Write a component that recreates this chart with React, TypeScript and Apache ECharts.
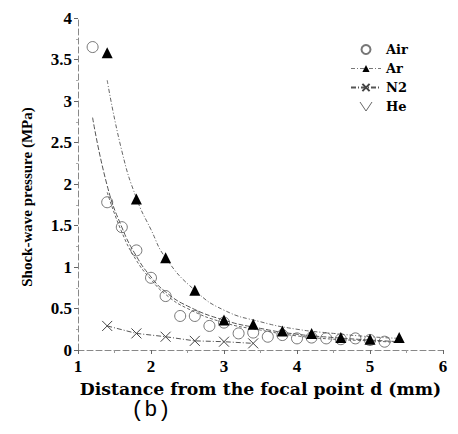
import React, { useEffect, useRef } from "react";
import * as echarts from "echarts";

const xTicks = [1, 2, 3, 4, 5, 6];
const airX = [1.2, 1.4, 1.6, 1.8, 2.0, 2.2, 2.4, 2.6, 2.8, 3.0, 3.2, 3.4, 3.6, 3.8, 4.0, 4.2, 4.4, 4.6, 4.8, 5.0, 5.2];
const airY = [3.65, 1.78, 1.48, 1.2, 0.87, 0.65, 0.41, 0.41, 0.29, 0.33, 0.2, 0.21, 0.16, 0.18, 0.14, 0.15, 0.14, 0.13, 0.14, 0.12, 0.1];
const arX = [1.4, 1.8, 2.2, 2.6, 3.0, 3.4, 3.8, 4.2, 4.6, 5.0, 5.4];
const arY = [3.58, 1.82, 1.11, 0.72, 0.36, 0.31, 0.23, 0.2, 0.15, 0.13, 0.15];
const n2X = [1.4, 1.8, 2.2, 2.6, 3.0, 3.4];
const n2Y = [0.29, 0.2, 0.16, 0.11, 0.1, 0.08];
const airFitX = [1.2, 1.4, 1.6, 1.8, 2.0, 2.2, 2.5, 3.0, 3.5, 4.0, 4.5, 5.0, 5.4];
const airFitY = [2.8, 1.98, 1.48, 1.13, 0.88, 0.7, 0.53, 0.36, 0.26, 0.19, 0.15, 0.12, 0.1];
const heFitX = [1.4, 1.6, 1.8, 2.0, 2.2, 2.5, 3.0, 3.5, 4.0, 4.5, 5.0, 5.4];
const heFitY = [1.9, 1.42, 1.08, 0.85, 0.67, 0.5, 0.33, 0.24, 0.17, 0.13, 0.11, 0.09];
const arFitX = [1.4, 1.6, 1.8, 2.0, 2.2, 2.6, 3.0, 3.5, 4.0, 4.5, 5.0, 5.4];
const arFitY = [3.25, 2.4, 1.83, 1.45, 1.11, 0.72, 0.48, 0.34, 0.25, 0.2, 0.16, 0.14];

const pairs = (xs: number[], ys: number[]) => xs.map((x, i) => [x, ys[i]]);

const serif = "'Liberation Serif', 'Times New Roman', serif";
const wideSerif = "'DejaVu Serif', serif";

export default function App() {
  const ref = useRef<HTMLDivElement>(null);
  useEffect(() => {
    if (!ref.current) return;
    const chart = echarts.init(ref.current, null, { renderer: "svg" });
    chart.setOption({
      animation: false,
      backgroundColor: "#fff",
      grid: { left: 78, right: 15, top: 18, bottom: 84 },
      legend: {
        orient: "vertical",
        left: 345,
        top: 35,
        itemWidth: 30,
        itemHeight: 9,
        itemGap: 0,
        textStyle: { fontFamily: wideSerif, fontWeight: "bold", fontSize: 13, color: "#000", lineHeight: 19 },
        data: [
          { name: "Air" },
          { name: "Ar", lineStyle: { opacity: 1, width: 1, color: "#777", type: [4, 2, 1, 2] } },
          { name: "N2" },
          {
            name: "He",
            icon: "path://M0,0L4,6L8,0",
            itemStyle: { color: "none", borderColor: "#666", borderWidth: 1 },
            lineStyle: { opacity: 0 },
          },
        ],
      },
      xAxis: {
        type: "value",
        min: xTicks[0],
        max: xTicks[xTicks.length - 1],
        interval: 1,
        name: "Distance from the focal point d (mm)",
        nameLocation: "middle",
        nameGap: 25,
        nameTextStyle: { fontFamily: wideSerif, fontWeight: "bold", fontSize: 17.3, color: "#000", lineHeight: 18 },
        axisLine: { lineStyle: { color: "#888", type: [6, 3], width: 1 } },
        axisTick: { length: 4, lineStyle: { color: "#666" } },
        minorTick: { show: true, splitNumber: 2, length: 3, lineStyle: { color: "#999" } },
        splitLine: { show: false },
        axisLabel: { fontFamily: serif, fontWeight: "bold", fontSize: 17, color: "#000", margin: 8 },
      },
      yAxis: {
        type: "value",
        min: 0,
        max: 4,
        interval: 0.5,
        axisLine: { show: true, lineStyle: { color: "#888", type: [6, 3], width: 1 } },
        axisTick: { show: true, length: 4, lineStyle: { color: "#666" } },
        minorTick: { show: true, splitNumber: 2, length: 2, lineStyle: { color: "#aaa" } },
        splitLine: { show: false },
        axisLabel: { fontFamily: serif, fontWeight: "bold", fontSize: 17, color: "#000", margin: 6 },
      },
      series: [
        {
          name: "Air fit",
          type: "line",
          data: pairs(airFitX, airFitY),
          smooth: true,
          showSymbol: false,
          lineStyle: { color: "#555", width: 1, type: [5, 2] },
          z: 1,
        },
        {
          name: "He",
          type: "line",
          data: pairs(heFitX, heFitY),
          smooth: true,
          showSymbol: false,
          itemStyle: { color: "#666" },
          lineStyle: { color: "#666", width: 1, type: [3, 2] },
          z: 1,
        },
        {
          name: "Ar fit",
          type: "line",
          data: pairs(arFitX, arFitY),
          smooth: true,
          showSymbol: false,
          lineStyle: { color: "#666", width: 1, type: [4, 2, 1, 2] },
          z: 1,
        },
        {
          name: "Air",
          type: "scatter",
          data: pairs(airX, airY),
          symbol: "circle",
          symbolSize: 11,
          itemStyle: { color: "rgba(255,255,255,0)", borderColor: "#555", borderWidth: 1 },
          z: 3,
        },
        {
          name: "Ar",
          type: "line",
          data: pairs(arX, arY),
          symbol: "triangle",
          symbolSize: 11,
          showSymbol: true,
          itemStyle: { color: "#000" },
          lineStyle: { opacity: 0 },
          z: 4,
        },
        {
          name: "N2",
          type: "line",
          data: pairs(n2X, n2Y),
          symbol: "path://M0,0L10,10M10,0L0,10",
          symbolSize: 10,
          itemStyle: { color: "none", borderColor: "#444", borderWidth: 1 },
          lineStyle: { color: "#555", width: 1, type: [5, 2, 1, 2] },
          z: 2,
        },
      ],
      graphic: [
        {
          type: "text",
          x: 27,
          y: 197,
          rotation: Math.PI / 2,
          style: {
            text: "Shock-wave pressure (MPa)",
            fontFamily: serif,
            fontWeight: "bold",
            fontSize: 15,
            fill: "#000",
            align: "center",
            verticalAlign: "middle",
          },
        },
        {
          type: "text",
          left: 131,
          top: 399,
          style: { text: "(b)", fontFamily: "'Liberation Mono', monospace", fontSize: 22, fill: "#000" },
        },
      ],
    });
    return () => chart.dispose();
  }, []);
  return <div ref={ref} style={{ position: "fixed", left: 0, top: 0, width: 458, height: 434 }} />;
}
